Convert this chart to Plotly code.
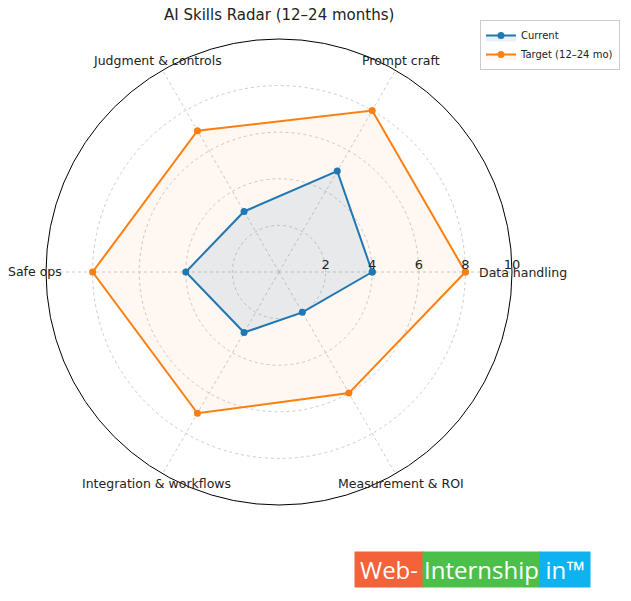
import math
import plotly.graph_objects as go

# datos del radar
categories = ["Data handling", "Prompt craft", "Judgment & controls",
              "Safe ops", "Integration & workflows", "Measurement & ROI"]
current = [4, 5, 3, 4, 3, 2]
target = [8, 8, 7, 8, 7, 6]
radial_ticks = [2, 4, 6, 8, 10]

W, H = 631, 601
OFF = 8  # margen del body del html

# cerrar el polígono
cats_closed = categories + categories[:1]

fig = go.Figure()

fig.add_trace(go.Scatterpolar(
    r=target + target[:1],
    theta=cats_closed,
    mode="lines+markers",
    name="Target (12–24 mo)",
    line=dict(color="#ff7f0e", width=2),
    marker=dict(size=7, color="#ff7f0e"),
    fill="toself",
    fillcolor="rgba(255,127,14,0.06)",
))

fig.add_trace(go.Scatterpolar(
    r=current + current[:1],
    theta=cats_closed,
    mode="lines+markers",
    name="Current",
    line=dict(color="#1f77b4", width=2),
    marker=dict(size=7, color="#1f77b4"),
    fill="toself",
    fillcolor="rgba(31,119,180,0.10)",
))

# geometría del radar (px dentro de la figura)
cx, cy, rad = 279 - OFF, 272 - OFF, 233

fig.update_layout(
    width=W, height=H,
    margin=dict(l=0, r=0, t=0, b=0),
    paper_bgcolor="white",
    font=dict(family="DejaVu Sans", size=13, color="#222"),
    polar=dict(
        domain=dict(x=[(cx - rad) / W, (cx + rad) / W],
                    y=[1 - (cy + rad) / H, 1 - (cy - rad) / H]),
        bgcolor="white",
        angularaxis=dict(
            direction="counterclockwise", rotation=0,
            showline=True, linecolor="black", linewidth=1,
            gridcolor="#cccccc", griddash="dot", gridwidth=1,
            ticks="", showticklabels=False,
        ),
        radialaxis=dict(
            range=[0, 10], tickvals=radial_ticks, angle=0,
            side="counterclockwise",
            showline=False, ticks="",
            gridcolor="#cccccc", griddash="dot", gridwidth=1,
            tickfont=dict(size=13, color="#222"),
        ),
    ),
    legend=dict(
        x=1 - 19 / W, y=1 - 12 / H, xanchor="right", yanchor="top",
        bordercolor="#cccccc", borderwidth=1, bgcolor="white",
        font=dict(size=10), traceorder="reversed",
        itemwidth=30, tracegroupgap=0,
    ),
)

# título
fig.add_annotation(
    text="AI Skills Radar (12–24 months)", xref="paper", yref="paper",
    showarrow=False, x=cx / W, y=1 - 7 / H, xanchor="center", yanchor="middle",
    font=dict(size=15, color="#222"),
)

# etiquetas de categorías alrededor del círculo
label_r = 244
for i, cat in enumerate(categories):
    ang = math.radians(360 * i / len(categories))
    fig.add_annotation(
        text=cat, xref="paper", yref="paper", showarrow=False,
        x=(cx + label_r * math.cos(ang)) / W,
        y=1 - (cy - label_r * math.sin(ang)) / H,
        xanchor="center", yanchor="middle",
        font=dict(size=12.5, color="#222"),
    )

# marca de agua
wm_parts = ["Web-", "Internship", "in™"]
wm_colors = ["#f4623a", "#4cbf4a", "#0db2ef"]
wm_edges = [355, 423, 540, 590]
for k, part in enumerate(wm_parts):
    left, right = wm_edges[k] - OFF, wm_edges[k + 1] - OFF
    fig.add_annotation(
        text=part, xref="paper", yref="paper", showarrow=False,
        x=(left + right) / 2 / W, y=1 - (569.5 - OFF) / H,
        xanchor="center", yanchor="middle",
        width=right - left, height=35, borderpad=0,
        bgcolor=wm_colors[k],
        font=dict(family="Open Sans", size=24, color="white"),
    )

fig.write_html("out.html")
